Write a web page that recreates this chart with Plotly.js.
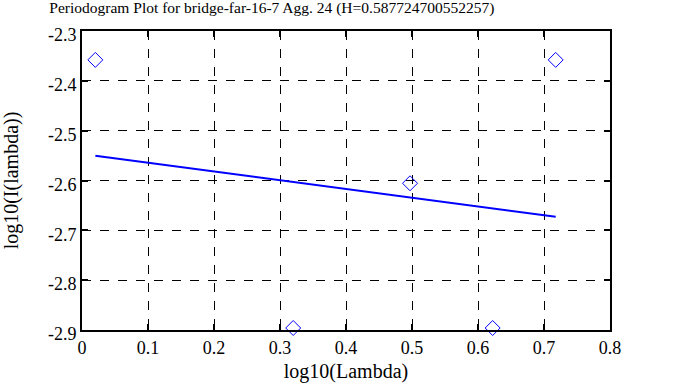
<!DOCTYPE html>
<html><head><meta charset="utf-8">
<script src="https://cdn.plot.ly/plotly-3.0.1.min.js"></script>
<style>html,body{margin:0;padding:0;background:#fff}</style>
</head><body>
<div id="chart" style="width:683px;height:387px"></div>
<script>
const pointX = [0.0202, 0.3200, 0.4970, 0.6222, 0.7177];
const pointY = [-2.358, -2.896, -2.6056, -2.896, -2.358];
const fitX = [0.0202, 0.7177];
const fitY = [-2.5505, -2.6728];
const xTicks = [0, 0.1, 0.2, 0.3, 0.4, 0.5, 0.6, 0.7, 0.8];
const yTicks = [-2.9, -2.8, -2.7, -2.6, -2.5, -2.4, -2.3];

const fam = '"Liberation Serif", "DejaVu Serif", serif';
const font = {family: fam, size: 18, color: '#000'};
const titleFont = {family: fam, size: 15.5, color: '#000'};
const axFont = {family: fam, size: 20, color: '#000'};
Plotly.newPlot('chart', [
  {x: fitX, y: fitY, mode: 'lines', line: {color: '#0000ff', width: 2}, hoverinfo: 'none'},
  {x: pointX, y: pointY, mode: 'markers', marker: {symbol: 'diamond-open', size: 11.5, color: '#0000ff', line: {width: 1, color: '#0000ff'}}, cliponaxis: false}
], {
  width: 683, height: 387,
  margin: {l: 82, r: 73, t: 31, b: 57},
  showlegend: false,
  paper_bgcolor: '#fff', plot_bgcolor: '#fff',
  font: font,
  title: {text: 'Periodogram Plot for bridge-far-16-7 Agg. 24 (H=0.587724700552257)', font: titleFont, x: 0.398, xanchor: 'center', y: 0.995, yanchor: 'top'},
  xaxis: {range: [0, 0.8], tickvals: xTicks, ticktext: xTicks.map(String), showgrid: true, gridcolor: '#000', griddash: 'dash', gridwidth: 1,
    showline: true, linecolor: '#000', linewidth: 2, mirror: 'ticks', ticks: 'inside', ticklen: 6, tickcolor: '#000', tickwidth: 2,
    zeroline: false, title: {text: 'log10(Lambda)', font: axFont, standoff: 7}, tickfont: font},
  yaxis: {range: [-2.9, -2.3], tickvals: yTicks, ticktext: yTicks.map(v => v.toFixed(1)), showgrid: true, gridcolor: '#000', griddash: 'dash', gridwidth: 1,
    showline: true, linecolor: '#000', linewidth: 2, mirror: 'ticks', ticks: 'inside', ticklen: 6, tickcolor: '#000', tickwidth: 2,
    zeroline: false, ticklabelshift: 4, title: {text: 'log10(I(lambda))', font: axFont, standoff: 24}, tickfont: font}
}, {displayModeBar: false, staticPlot: true});
</script>
</body></html>
